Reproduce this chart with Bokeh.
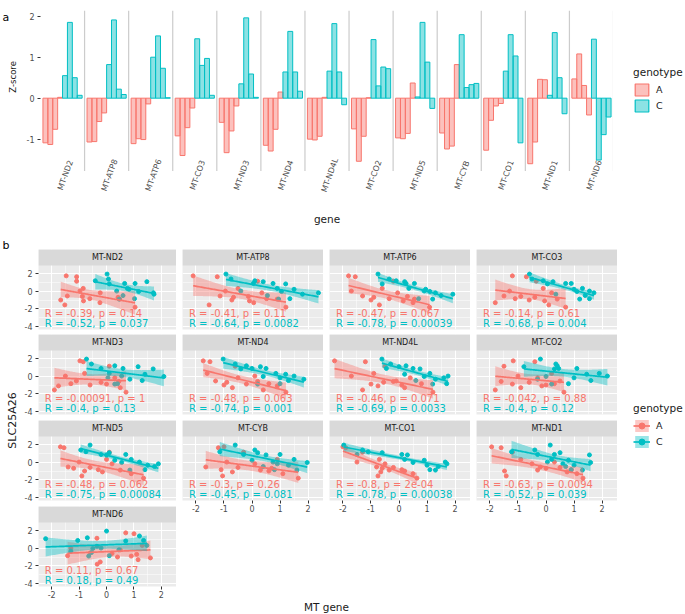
import numpy as np
from bokeh.plotting import figure
from bokeh.models import (ColumnDataSource, Range1d, FixedTicker, Legend, LegendItem,
                          PrintfTickFormatter, Spacer)
from bokeh.layouts import row, column
from bokeh.embed import file_html
from bokeh.resources import INLINE
from bokeh.core.properties import value

FONT = "DejaVu Sans"
COL_A = "#F8766D"
COL_C = "#00BFC4"
TXT_GREY = "#4D4D4D"
TICK_GREY = "#333333"

GENES = ["MT-ND2", "MT-ATP8", "MT-ATP6", "MT-CO3", "MT-ND3", "MT-ND4", "MT-ND4L",
         "MT-CO2", "MT-ND5", "MT-CYB", "MT-CO1", "MT-ND1", "MT-ND6"]

# ---- panel a: Z-scores (4 bars per genotype and gene)
ZSCORE_A = [[-1.09, -1.13, -0.76, 0.02], [-1.07, -1.06, -0.57, -0.36], [-1.11, -0.99, -1.01, -0.14],
            [-0.92, -1.40, -0.72, -0.24], [-0.59, -1.33, -0.80, -0.19], [-1.15, -1.29, -0.76, 0.15],
            [-1.00, -1.02, -0.93, 0.02], [-0.75, -1.54, -0.93, 0.01], [-0.97, -0.99, -0.86, 0.37],
            [-0.85, -1.24, -1.17, 0.82], [-1.27, -0.54, -0.19, -0.13], [-1.60, -1.07, 0.46, 0.45],
            [0.47, 1.08, 0.31, -0.41]]
ZSCORE_C = [[0.55, 1.85, 0.50, 0.07], [0.82, 1.91, 0.22, 0.09], [1.00, 1.52, 0.73, 0.01],
            [1.45, 0.80, 0.97, 0.07], [0.35, 1.96, 0.59, 0.02], [0.64, 1.63, 0.64, 0.17],
            [0.66, 1.82, 0.64, -0.16], [1.43, 0.30, 0.76, 0.72], [0.03, 1.85, 0.88, -0.25],
            [1.55, 0.26, 0.33, 0.36], [0.66, 1.55, 1.03, -1.09], [0.07, 1.60, 0.50, -0.38],
            [1.44, -1.51, -0.89, -0.46]]

# ---- panel b: SLC25A26 per sample (same samples in every facet)
SLC_A = [1.7, 1.6, 1.1, 0.3, 0.0, -0.2, -0.55, -0.6, -0.7, -0.85, -0.9, -1.0, -1.1, -1.3, -1.55, -1.8]
SLC_C = [1.9, 1.35, 1.15, 1.05, 0.85, 0.85, 0.8, 0.3, 0.2, 0.0, -0.05, -0.2, -0.35, -0.5, -0.85, -0.9]

# MT gene expression per sample, genotype A
MT_A_ND2 = [-1.47, -1.09, -1.09, -0.85, -0.97, -0.23, -1.43, -0.88, 0.42, -0.61, 0.48, -1.67, -0.84, -0.24, -1.52, 1.04]
MT_A_ATP8 = [-2.10, -1.24, 0.20, -0.50, -0.95, 0.35, -1.14, -0.13, -0.66, 0.52, 0.90, -0.72, -0.09, 0.06, -1.53, 1.21]
MT_A_ATP6 = [-1.80, -1.56, -0.20, -0.60, -1.70, -0.05, -1.30, 0.30, -0.90, -0.35, 0.55, -1.00, 0.15, 0.50, -0.70, 1.09]
MT_A_CO3 = [-1.20, -0.70, -0.35, -0.10, -1.30, 0.20, -1.50, -0.90, -0.40, -1.10, 0.40, -0.60, -0.05, -1.81, 0.10, 0.70]
MT_A_ND3 = [-0.97, -0.85, 0.10, -0.80, -1.50, 0.30, -1.10, 0.45, -0.20, -1.30, 0.00, -0.60, -1.75, 0.50, -1.90, 0.71]
MT_A_ND4 = [-1.74, -1.50, -0.60, -1.60, 0.10, -0.50, -1.30, 0.20, -0.90, 0.60, -0.20, -1.00, 0.90, -0.70, 0.40, 1.21]
MT_A_ND4L = [-2.30, -1.20, -0.50, -0.90, -1.70, 0.40, -0.10, -0.20, -0.55, 0.80, -1.00, 0.10, -0.75, 0.20, -1.30, 1.21]
MT_A_CO2 = [-1.17, -0.40, -1.50, 0.20, -1.00, -0.30, 0.50, -1.60, -0.60, 0.30, -1.20, 0.00, -0.15, -0.90, -1.81, 0.64]
MT_A_ND5 = [-1.68, -1.55, 0.10, 0.00, -1.00, 0.20, -1.40, -0.60, -1.20, -0.30, 0.50, -0.80, -0.15, 0.90, -0.90, 1.35]
MT_A_CYB = [-1.00, -1.20, -0.30, 0.90, -0.90, 0.10, -1.65, -0.50, 0.70, -1.10, 0.30, 0.60, -0.70, 1.10, -1.05, 1.65]
MT_A_CO1 = [-2.00, -1.90, -1.30, -0.70, -1.50, -0.50, -0.80, -0.20, -0.60, 0.10, -0.35, 0.20, -0.65, 0.50, -0.75, 0.64]
MT_A_ND1 = [-1.94, -1.60, -1.20, -0.90, 0.30, -0.50, -0.20, 0.50, 0.00, 0.90, -0.30, -1.48, 0.75, 1.10, -1.42, 1.32]
MT_A_ND6 = [0.70, 1.00, -0.35, 1.30, -1.30, 0.50, -0.60, 0.20, 1.10, -1.42, 0.90, 0.40, 1.60, 1.15, -0.23, -0.34]

# MT gene expression per sample, genotype C
MT_C_ND2 = [0.02, 0.07, -0.41, 1.47, 0.66, 1.04, 0.10, 0.76, 0.82, 0.37, 1.17, 1.71, 1.73, 0.60, 1.02, 0.46]
MT_C_ATP8 = [-0.93, -0.75, 0.10, 0.40, 0.05, 0.75, 1.20, 0.90, 1.50, -0.40, 1.05, 2.37, 1.80, 0.55, 1.35, 0.95]
MT_C_ATP6 = [-0.75, -0.35, -0.10, 0.20, 0.25, 0.55, -0.60, 0.35, 0.95, 0.90, 1.10, 1.30, 1.92, 1.50, 0.70, 1.20]
MT_C_CO3 = [-0.59, -0.50, -0.10, 0.25, 0.70, 0.90, 0.05, 1.30, 1.00, 1.55, 1.10, 1.71, 0.35, 1.40, 1.55, 1.20]
MT_C_ND3 = [-0.73, -0.55, 0.30, 1.15, 0.60, -0.20, 1.70, 0.10, 1.40, 0.55, 2.09, 0.05, 0.85, 1.30, 0.40, 0.30]
MT_C_ND4 = [-1.03, -0.60, -0.20, 0.30, 0.00, 0.50, -0.40, 0.85, 1.20, 1.50, 0.40, 1.00, 1.85, 1.30, 1.00, 0.20]
MT_C_ND4L = [-0.61, -0.30, 0.25, 0.00, 0.50, -0.45, 0.75, 1.10, 0.20, 1.75, 0.90, 1.60, 1.30, 0.60, 1.70, 1.20]
MT_C_CO2 = [-0.20, 0.35, 0.40, -0.79, 1.10, 0.45, 0.30, 1.90, 1.45, 2.19, 0.00, 1.00, -0.30, 1.60, 0.80, 0.20]
MT_C_ND5 = [-0.60, -0.94, -0.75, 0.10, -0.20, 0.70, 0.00, 0.90, 0.30, 1.20, 0.55, 1.89, 1.50, 1.75, 1.40, 0.85]
MT_C_CYB = [-0.60, 0.10, -1.15, 0.20, 1.00, -0.30, 0.50, 1.50, 0.00, 0.75, 1.97, 0.90, 1.30, 0.40, 0.80, 1.60]
MT_C_CO1 = [-1.97, -1.30, -1.10, -0.60, 0.10, -1.50, 0.30, 0.20, 0.90, 1.65, 0.50, 1.71, 1.00, 1.40, 1.10, 1.30]
MT_C_ND1 = [0.15, -0.40, -1.23, 0.50, 0.30, -0.30, 1.55, 0.20, 0.80, 0.05, 1.59, 0.60, 1.00, 0.70, 0.90, 1.30]
MT_C_ND6 = [0.00, 1.20, -0.70, -2.22, -1.05, 1.35, 0.70, 1.47, -0.35, -0.20, -0.50, 0.45, -1.30, -0.55, 0.10, -0.65]

MT_A = [MT_A_ND2, MT_A_ATP8, MT_A_ATP6, MT_A_CO3, MT_A_ND3, MT_A_ND4, MT_A_ND4L,
        MT_A_CO2, MT_A_ND5, MT_A_CYB, MT_A_CO1, MT_A_ND1, MT_A_ND6]
MT_C = [MT_C_ND2, MT_C_ATP8, MT_C_ATP6, MT_C_CO3, MT_C_ND3, MT_C_ND4, MT_C_ND4L,
        MT_C_CO2, MT_C_ND5, MT_C_CYB, MT_C_CO1, MT_C_ND1, MT_C_ND6]

R_LABEL_A = ["R = -0.39, p = 0.14", "R = -0.41, p = 0.11", "R = -0.47, p = 0.067", "R = -0.14, p = 0.61",
             "R = -0.00091, p = 1", "R = -0.48, p = 0.063", "R = -0.46, p = 0.071", "R = -0.042, p = 0.88",
             "R = -0.48, p = 0.062", "R = -0.3, p = 0.26", "R = -0.8, p = 2e-04", "R = -0.63, p = 0.0094",
             "R = 0.11, p = 0.67"]
R_LABEL_C = ["R = -0.52, p = 0.037", "R = -0.64, p = 0.0082", "R = -0.78, p = 0.00039", "R = -0.68, p = 0.004",
             "R = -0.4, p = 0.13", "R = -0.74, p = 0.001", "R = -0.69, p = 0.0033", "R = -0.4, p = 0.12",
             "R = -0.75, p = 0.00084", "R = -0.45, p = 0.081", "R = -0.78, p = 0.00038", "R = -0.52, p = 0.039",
             "R = 0.18, p = 0.49"]


def blank(w, h):
    b = figure(width=w, height=h, x_range=Range1d(0, 1), y_range=Range1d(0, 1), x_axis_location=None,
               y_axis_location=None, min_border=0, outline_line_color=None, output_backend="svg",
               toolbar_location=None)
    b.xgrid.visible = False
    b.ygrid.visible = False
    return b


def style_legend(leg):
    leg.title_text_font = FONT
    leg.title_text_font_size = "10.5px"
    leg.title_text_font_style = "normal"
    leg.title_text_color = "#1A1A1A"
    leg.title_standoff = 4
    leg.label_text_font = FONT
    leg.label_text_font_size = "9.5px"
    leg.label_text_color = "#1A1A1A"
    leg.glyph_width = 17
    leg.glyph_height = 15
    leg.label_height = 15
    leg.label_standoff = 6
    leg.spacing = 1
    leg.padding = 0
    leg.margin = 0
    leg.border_line_color = None
    leg.background_fill_alpha = 0


# ================= panel a =================
NB = 4
FW = 2 * NB + 1
PANEL_A_YLIM = (-1.78, 2.14)

pa = figure(width=591, height=238, x_range=Range1d(0, FW * len(GENES)), y_range=Range1d(-2.40, 2.14),
            output_backend="svg", toolbar_location=None, min_border_left=18, min_border_right=0,
            min_border_top=10, min_border_bottom=42, outline_line_color=None)
pa.xgrid.visible = False
pa.ygrid.visible = False

xa, ta, xc, tc = [], [], [], []
for k in range(len(GENES)):
    for j in range(NB):
        xa.append(k * FW + 1 + j)
        ta.append(ZSCORE_A[k][j])
        xc.append(k * FW + 1 + NB + j)
        tc.append(ZSCORE_C[k][j])

bounds = [(k + 1) * FW for k in range(len(GENES))]
pa.segment(x0=bounds, y0=PANEL_A_YLIM[0], x1=bounds, y1=PANEL_A_YLIM[1], line_color="#CCCCCC", line_width=1.2)
pa.vbar(x=xa, top=ta, bottom=0, width=1, fill_color=COL_A, fill_alpha=0.45, line_color=COL_A, line_width=1)
pa.vbar(x=xc, top=tc, bottom=0, width=1, fill_color=COL_C, fill_alpha=0.45, line_color=COL_C, line_width=1)

pa.text(x=[k * FW + FW / 2 + 0.6 for k in range(len(GENES))], y=-1.88, text=GENES, angle=np.deg2rad(70),
        text_align="center", text_baseline="middle", text_font_size="8px", text_color=TXT_GREY,
        text_font=value(FONT))

ya = pa.yaxis[0]
ya.ticker = FixedTicker(ticks=[-1, 0, 1, 2])
ya.formatter = PrintfTickFormatter(format="%d")
ya.axis_line_color = None
ya.major_tick_out = 3
ya.major_tick_in = 0
ya.minor_tick_line_color = None
ya.major_tick_line_color = TICK_GREY
ya.major_label_text_font_size = "8px"
ya.major_label_text_color = TXT_GREY
ya.major_label_text_font = FONT
ya.major_label_standoff = 3

xax = pa.xaxis[0]
xax.ticker = FixedTicker(ticks=[])
xax.axis_line_color = None
xax.major_tick_line_color = None
xax.minor_tick_line_color = None
xax.major_tick_out = 0
xax.major_label_standoff = 0
xax.axis_label = "gene"
xax.axis_label_text_font = FONT
xax.axis_label_text_font_size = "10.5px"
xax.axis_label_text_font_style = "normal"
xax.axis_label_text_color = "#1A1A1A"
xax.axis_label_standoff = 16

yla = blank(22, 238)
yla.text(x=[0.09], y=[0.995], text=["a"], text_align="left", text_baseline="top",
         text_font_size="11px", text_color="black", text_font=value(FONT))
yla.text(x=[0.58], y=[0.643], text=["Z-score"], angle=np.pi / 2, text_align="center", text_baseline="middle",
         text_font_size="8.5px", text_color="#1A1A1A", text_font=value(FONT))

lfa = blank(72, 192)
items_a = []
for lab, col in (("A", COL_A), ("C", COL_C)):
    src = ColumnDataSource(dict(l=[np.nan], r=[np.nan], b=[np.nan], t=[np.nan]))
    rq = lfa.quad(left="l", right="r", bottom="b", top="t", source=src, fill_color=col, fill_alpha=0.45,
                  line_color=col, line_width=1.2)
    items_a.append(LegendItem(label=lab, renderers=[rq]))
leg_a = Legend(items=items_a, title="genotype", location="top_left")
style_legend(leg_a)
leg_a.margin = 20
lfa.add_layout(leg_a)
lfa_col = column([Spacer(width=72, height=46), lfa])

# ================= panel b =================
XR = (-2.48, 2.55)
PANEL_B_YLIM = (-4.30, 2.86)
STRIP_FRAC = 16 / 64
YR_TOP = PANEL_B_YLIM[1] + (PANEL_B_YLIM[1] - PANEL_B_YLIM[0]) * STRIP_FRAC
ROW_TOP = [11, 0, 0, 1]
ROW_BOTTOM = [5, 6, 5, 5]
FRAME_H = 80
T975 = 2.145  # t quantile, df = 14


def lm_band(x, y, n_pts=80):
    x = np.asarray(x, dtype=float)
    y = np.asarray(y, dtype=float)
    n = len(x)
    b, a = np.polyfit(x, y, 1)
    xs = np.linspace(x.min(), x.max(), n_pts)
    yh = a + b * xs
    s = np.sqrt(np.sum((y - (a + b * x)) ** 2) / (n - 2))
    sxx = np.sum((x - x.mean()) ** 2)
    se = s * np.sqrt(1 / n + (xs - x.mean()) ** 2 / sxx)
    return xs, yh, yh - T975 * se, yh + T975 * se


def style_axis(ax, ticks):
    ax.ticker = FixedTicker(ticks=ticks)
    ax.formatter = PrintfTickFormatter(format="%d")
    ax.axis_line_color = None
    ax.major_tick_line_color = TICK_GREY
    ax.minor_tick_line_color = None
    ax.major_tick_out = 3
    ax.major_tick_in = 0
    ax.major_label_text_font = FONT
    ax.major_label_text_font_size = "8px"
    ax.major_label_text_color = TXT_GREY


def facet(i):
    r, c = divmod(i, 4)
    has_x = i >= 9
    has_y = c == 0
    w = 155 if has_y else 147
    bl = 15 if has_y else 6
    bb = 15 if has_x else ROW_BOTTOM[r]
    h = ROW_TOP[r] + FRAME_H + bb
    f = figure(width=w, height=h, x_range=Range1d(*XR), y_range=Range1d(PANEL_B_YLIM[0], YR_TOP),
               x_axis_location="below" if has_x else None, y_axis_location="left" if has_y else None,
               output_backend="svg", toolbar_location=None, min_border_left=bl, min_border_right=0,
               min_border_top=ROW_TOP[r], min_border_bottom=bb, background_fill_color="#EBEBEB",
               outline_line_color=None)
    f.xgrid.ticker = FixedTicker(ticks=[-2, -1, 0, 1, 2], minor_ticks=[-1.5, -0.5, 0.5, 1.5])
    f.ygrid.ticker = FixedTicker(ticks=[-4, -2, 0, 2], minor_ticks=[-3, -1, 1])
    for g in (f.xgrid[0], f.ygrid[0]):
        g.grid_line_color = "white"
        g.grid_line_width = 1.1
        g.minor_grid_line_color = "white"
        g.minor_grid_line_width = 0.5

    f.scatter(MT_A[i], SLC_A, size=4, color=COL_A)
    f.scatter(MT_C[i], SLC_C, size=4, color=COL_C)
    for xv, yv, col in ((MT_A[i], SLC_A, COL_A), (MT_C[i], SLC_C, COL_C)):
        xs, yh, lo, hi = lm_band(xv, yv)
        f.varea(x=xs, y1=lo, y2=hi, fill_color=col, fill_alpha=0.4)
        f.line(xs, yh, line_color=col, line_width=1.7)

    f.text(x=[-2.25], y=[-2.52], text=[R_LABEL_A[i]], text_color=COL_A, text_font_size="10px",
           text_align="left", text_baseline="middle", text_font=value(FONT))
    f.text(x=[-2.25], y=[-3.62], text=[R_LABEL_C[i]], text_color=COL_C, text_font_size="10px",
           text_align="left", text_baseline="middle", text_font=value(FONT))

    # strip
    f.quad(left=XR[0], right=XR[1], bottom=PANEL_B_YLIM[1], top=YR_TOP, fill_color="#D9D9D9", line_color=None)
    f.text(x=[(XR[0] + XR[1]) / 2], y=[(PANEL_B_YLIM[1] + YR_TOP) / 2], text=[GENES[i]],
           text_align="center", text_baseline="middle", text_font_size="8px", text_color="#1A1A1A",
           text_font=value(FONT))

    if has_x:
        style_axis(f.xaxis[0], [-2, -1, 0, 1, 2])
        f.xaxis[0].major_label_standoff = 1
    if has_y:
        style_axis(f.yaxis[0], [-4, -2, 0, 2])
        f.yaxis[0].major_label_standoff = 3
    return f


F = [facet(i) for i in range(len(GENES))]

yl = blank(21, 376)
yl.text(x=[0.095], y=[1.0], text=["b"], text_align="left", text_baseline="top",
        text_font_size="11px", text_color="black", text_font=value(FONT))
yl.text(x=[0.57], y=[0.516], text=["SLC25A26"], angle=np.pi / 2, text_align="center", text_baseline="middle",
        text_font_size="11px", text_color="#1A1A1A", text_font=value(FONT))

xl = blank(294, 99)
xl.text(x=[0.51], y=[0.08], text=["MT gene"], text_align="center", text_baseline="middle",
        text_font_size="10.5px", text_color="#1A1A1A", text_font=value(FONT))

lf = blank(68, 376)
items_b = []
for lab, col in (("A", COL_A), ("C", COL_C)):
    src = ColumnDataSource(dict(x=[np.nan], y=[np.nan], lo=[np.nan], hi=[np.nan]))
    rb = lf.varea(x="x", y1="lo", y2="hi", source=src, fill_color=col, fill_alpha=0.4)
    rl = lf.line(x="x", y="y", source=src, line_color=col, line_width=1.7)
    rp = lf.scatter(x="x", y="y", source=src, size=3.5, color=col)
    items_b.append(LegendItem(label=lab, renderers=[rb, rl, rp]))
leg_b = Legend(items=items_b, title="genotype", location=(16, 165))
style_legend(leg_b)
lf.add_layout(leg_b)

col1 = column([F[0], F[4], F[8], F[12]])
col23 = column([row([F[1], F[2]]), row([F[5], F[6]]), row([F[9], F[10]]), xl])
col4 = column([F[3], F[7], F[11]])
layout = column([row([yla, pa, lfa_col]), row([yl, col1, col23, col4, lf])])

with open("out.html", "w") as fh:
    fh.write(file_html(layout, INLINE))
